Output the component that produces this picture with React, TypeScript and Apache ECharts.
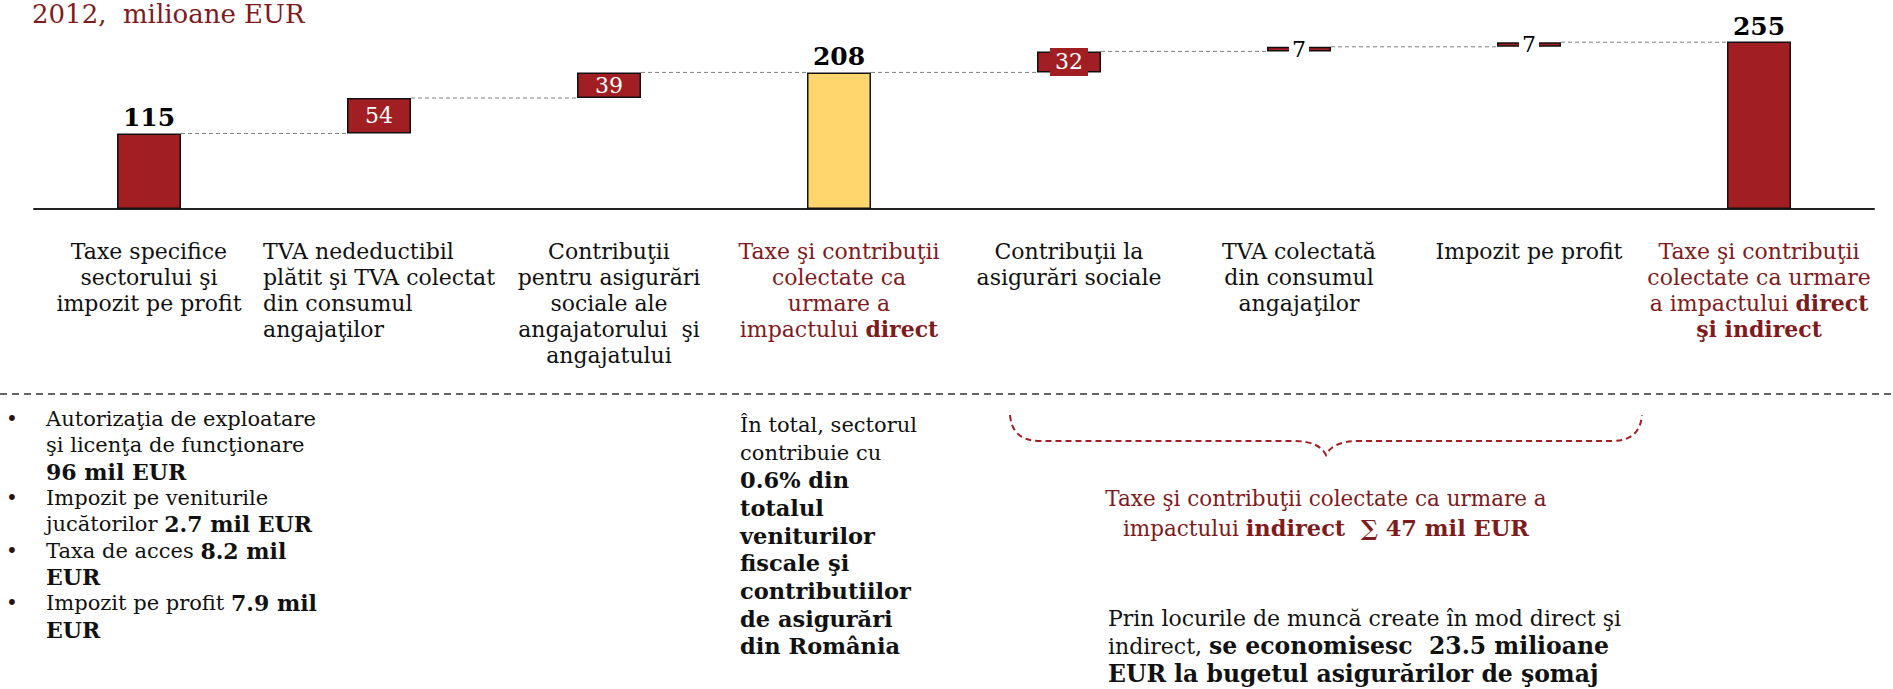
import React, { useEffect, useRef } from "react";
import * as echarts from "echarts";

// ---------- data ----------
const titleText = "2012,  milioane EUR";

const categories = [
  "Taxe specifice\nsectorului şi\nimpozit pe profit",
  "TVA nedeductibil\nplătit şi TVA colectat\ndin consumul\nangajaţilor",
  "Contribuţii\npentru asigurări\nsociale ale\nangajatorului  şi\nangajatului",
  "Taxe şi contribuţii\ncolectate ca\nurmare a\nimpactului **direct**",
  "Contribuţii la\nasigurări sociale",
  "TVA colectată\ndin consumul\nangajaţilor",
  "Impozit pe profit",
  "Taxe şi contribuţii\ncolectate ca urmare\na impactului **direct**\n**şi indirect**",
];
const values = [115, 54, 39, 208, 32, 7, 7, 255];
const kinds = ["total", "step", "step", "total", "step", "step", "step", "total"];

const bulletItems = [
  ["Autorizaţia de exploatare", "şi licenţa de funcţionare", "**96 mil EUR**"],
  ["Impozit pe veniturile", "jucătorilor **2.7 mil EUR**"],
  ["Taxa de acces **8.2 mil**", "**EUR**"],
  ["Impozit pe profit **7.9 mil**", "**EUR**"],
];
const totalNote = [
  "În total, sectorul",
  "contribuie cu",
  "**0.6% din**",
  "**totalul**",
  "**veniturilor**",
  "**fiscale şi**",
  "**contributiilor**",
  "**de asigurări**",
  "**din România**",
];
const indirectNote = [
  "Taxe şi contribuţii colectate ca urmare a",
  "impactului **indirect  ∑ 47 mil EUR**",
];
const jobsNote = [
  "Prin locurile de muncă create în mod direct şi",
  "indirect, **se economisesc  23.5 milioane**",
  "**EUR la bugetul asigurărilor de şomaj**",
];

// ---------- styles ----------
const FONT = "'DejaVu Serif', serif";
const RED = "#A11E22";
const YELLOW = "#FFD66E";
const RED_TEXT = "#7E1B1D";
const BLACK = "#111111";
const BAR_W = 64;

const BRACE_D =
  "M1010,415 Q1012,441 1040,441 L1294,441 Q1319,441 1326,455 Q1333,441 1358,441 L1612,441 Q1640,441 1642,415";

let braceRegistered = false;

function toRich(line: string, normal: string, bold: string) {
  return line
    .split("**")
    .map((p, k) => (p ? `{${k % 2 ? bold : normal}|${p}}` : ""))
    .join("");
}

function richSet(size: number, boldSize: number, lh: number, color: string) {
  const b = { fontFamily: FONT, fontSize: size, lineHeight: lh, fill: color, color };
  return {
    n: { ...b },
    b: { ...b, fontSize: boldSize, fontWeight: "bold" },
  };
}

function textBlock(
  lines: string[],
  x: number,
  yTop: number,
  size: number,
  boldSize: number,
  lh: number,
  color: string,
  align: string
) {
  return {
    type: "text",
    x,
    y: yTop,
    silent: true,
    style: {
      text: lines.map((l) => toRich(l, "n", "b")).join("\n"),
      rich: richSet(size, boldSize, lh, color),
      fontFamily: FONT,
      fontSize: size,
      fill: color,
      align,
      verticalAlign: "top",
    },
  };
}

export default function App() {
  const ref = useRef<HTMLDivElement>(null);

  useEffect(() => {
    if (!ref.current) return;
    if (!braceRegistered) {
      echarts.graphic.registerShape("brace", echarts.graphic.extendPath(BRACE_D, {}));
      braceRegistered = true;
    }
    const chart = echarts.init(ref.current, undefined, { renderer: "svg" });

    // waterfall geometry from the values
    const bases: number[] = [];
    const levels: number[] = [];
    let level = 0;
    values.forEach((v, i) => {
      if (kinds[i] === "total") {
        bases.push(0);
        level = v;
      } else {
        bases.push(level);
        level += v;
      }
      levels.push(level);
    });
    const connectors = levels.slice(0, -1).map((l, i) => [i, l]);
    const lastIdx = values.length - 1;

    const barData = values.map((v, i) => {
      const isTotal = kinds[i] === "total";
      const color = isTotal && i > 0 && i < lastIdx ? YELLOW : RED;
      let label: any;
      if (isTotal) {
        label = {
          show: true,
          position: "top",
          distance: 3,
          color: "#000",
          fontFamily: FONT,
          fontWeight: "bold",
          fontSize: 25,
        };
      } else if (v < 10) {
        label = {
          show: true,
          position: "inside",
          color: "#000",
          fontFamily: FONT,
          fontSize: 22,
          backgroundColor: "#fff",
          padding: [0, 3],
        };
      } else {
        label = {
          show: true,
          position: "inside",
          color: "#fff",
          fontFamily: FONT,
          fontSize: 22,
          backgroundColor: v < 35 ? RED : "transparent",
          padding: [3, 5],
        };
      }
      return {
        value: v,
        itemStyle: { color, borderColor: "#111", borderWidth: 1.5 },
        label,
      };
    });

    const labelRich: any = {};
    const mk = (name: string, color: string, bold: boolean, left: boolean) => {
      labelRich[name] = {
        fontFamily: FONT,
        fontSize: 22,
        lineHeight: 26,
        color,
        fontWeight: bold ? "bold" : "normal",
        ...(left ? { align: "left" } : {}),
      };
    };
    mk("k", BLACK, false, false);
    mk("kb", BLACK, true, false);
    mk("r", RED_TEXT, false, false);
    mk("rb", RED_TEXT, true, false);
    mk("kL", BLACK, false, true);
    mk("kbL", BLACK, true, true);
    const leftAlignedLabel = 1;

    const graphics: any[] = [];
    graphics.push({
      type: "text",
      x: 32,
      y: 14,
      silent: true,
      style: {
        text: titleText,
        fill: RED_TEXT,
        fontFamily: FONT,
        fontSize: 26,
        align: "left",
        verticalAlign: "middle",
      },
    });
    graphics.push({
      type: "line",
      silent: true,
      shape: { x1: 0, y1: 394, x2: 1893, y2: 394 },
      style: { stroke: "#333", lineWidth: 1.5, lineDash: [7, 5] },
    });
    graphics.push({
      type: "brace",
      x: 0,
      y: 0,
      silent: true,
      style: { fill: "none", stroke: RED, lineWidth: 2, lineDash: [6, 4] },
    });

    // bullet list
    const LH1 = 26.3;
    let lineIdx = 0;
    bulletItems.forEach((item) => {
      const top = 406 + lineIdx * LH1;
      graphics.push({
        type: "text",
        x: 12,
        y: top + LH1 / 2,
        silent: true,
        style: {
          text: "•",
          fill: "#2a1010",
          fontFamily: FONT,
          fontSize: 20,
          align: "center",
          verticalAlign: "middle",
        },
      });
      graphics.push(textBlock(item, 46, top, 21, 22, LH1, BLACK, "left"));
      lineIdx += item.length;
    });
    graphics.push(textBlock(totalNote, 740, 411, 21, 22.5, 27.7, BLACK, "left"));
    graphics.push(textBlock(indirectNote, 1326, 483, 21.5, 22.5, 30, RED_TEXT, "center"));
    graphics.push(textBlock(jobsNote, 1108, 605, 22, 23.5, 27.5, BLACK, "left"));

    chart.setOption({
      animation: false,
      grid: {
        left: 34,
        right: 19,
        top: 12,
        bottom: 480,
        containLabel: false,
        outerBoundsMode: "none",
      },
      xAxis: {
        type: "category",
        data: categories,
        boundaryGap: true,
        axisTick: { show: false },
        axisLine: { show: true, lineStyle: { color: "#222", width: 2 } },
        splitLine: { show: false },
        axisLabel: {
          interval: 0,
          margin: 29,
          hideOverlap: false,
          verticalAlign: "top",
          formatter: (value: string, index: number) => {
            const red = kinds[index] === "total" && index > 0;
            const left = index === leftAlignedLabel;
            const n = (red ? "r" : "k") + (left ? "L" : "");
            const b = (red ? "rb" : "kb") + (left ? "L" : "");
            return value
              .split("\n")
              .map((l) => toRich(l, n, b))
              .join("\n");
          },
          rich: labelRich,
        },
      },
      yAxis: {
        type: "value",
        min: 0,
        max: 300,
        show: false,
        splitLine: { show: false },
      },
      series: [
        {
          type: "custom",
          data: connectors,
          z: 1,
          silent: true,
          encode: { x: 0, y: 1 },
          renderItem: (params: any, api: any) => {
            const i = api.value(0);
            const lv = api.value(1);
            const a = api.coord([i, lv]);
            const b = api.coord([i + 1, lv]);
            return {
              type: "line",
              shape: { x1: a[0] + BAR_W / 2, y1: a[1], x2: b[0] - BAR_W / 2, y2: a[1] },
              style: { stroke: "#808080", lineWidth: 1, lineDash: [4, 3] },
            };
          },
        },
        {
          type: "bar",
          stack: "w",
          data: bases,
          barWidth: BAR_W,
          silent: true,
          itemStyle: { color: "transparent", borderWidth: 0 },
          label: { show: false },
          emphasis: { disabled: true },
          z: 2,
        },
        {
          type: "bar",
          stack: "w",
          data: barData,
          barWidth: BAR_W,
          silent: true,
          emphasis: { disabled: true },
          z: 3,
        },
      ],
      graphic: graphics,
    });

    return () => chart.dispose();
  }, []);

  return (
    <div
      ref={ref}
      style={{ position: "absolute", left: 0, top: 0, width: 1893, height: 689, background: "#fff" }}
    />
  );
}
